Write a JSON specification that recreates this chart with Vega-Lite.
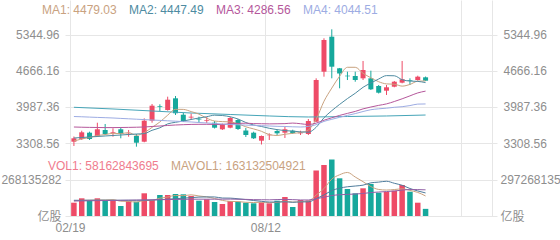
{
 "$schema": "https://vega.github.io/schema/vega-lite/v6.json",
 "padding": 0,
 "bounds": "flush",
 "spacing": 0,
 "background": "#ffffff",
 "config": {
  "view": {"stroke": null},
  "axis": {"labelFont": "Liberation Sans, Noto Sans CJK SC, sans-serif", "labelFontSize": 12, "labelColor": "#8e8e8e", "gridColor": "#e6e6e6", "gridWidth": 1, "domain": false, "ticks": false, "title": null},
  "legend": {"orient": "none", "direction": "horizontal", "title": null, "symbolSize": 0, "symbolStrokeWidth": 0, "symbolOpacity": 0, "labelOffset": 0, "columnPadding": 0, "padding": 0, "labelFontSize": 12, "labelFont": "Liberation Sans", "labelLimit": 400}
 },
 "datasets": {
  "k": [
   {"i":0,"o":3333,"h":3431,"l":3252,"c":3397,"d":"up","v":108.3,"a1":3346,"a2":3403,"a3":3610,"a4":3808,"b1":125,"b2":128,"b3":122},
   {"i":1,"o":3384,"h":3540,"l":3365,"c":3510,"d":"up","v":144.1,"a1":3384,"a2":3412,"a3":3606,"a4":3803,"b1":127,"b2":128,"b3":123},
   {"i":2,"o":3503,"h":3522,"l":3365,"c":3384,"d":"down","v":130.3,"a1":3412,"a2":3422,"a3":3603,"a4":3797,"b1":128,"b2":129,"b3":124},
   {"i":3,"o":3441,"h":3691,"l":3422,"c":3567,"d":"up","v":144.1,"a1":3450,"a2":3431,"a3":3601,"a4":3791,"b1":130,"b2":129,"b3":125},
   {"i":4,"o":3554,"h":3667,"l":3459,"c":3478,"d":"down","v":124.6,"a1":3467,"a2":3441,"a3":3599,"a4":3786,"b1":130.3,"b2":129,"b3":126},
   {"i":5,"o":3503,"h":3586,"l":3427,"c":3516,"d":"up","v":122.2,"a1":3491,"a2":3450,"a3":3599,"a4":3780,"b1":133.1,"b2":128,"b3":127},
   {"i":6,"o":3567,"h":3605,"l":3397,"c":3478,"d":"down","v":81.4,"a1":3484,"a2":3459,"a3":3601,"a4":3772,"b1":120.5,"b2":128,"b3":128},
   {"i":7,"o":3469,"h":3554,"l":3427,"c":3484,"d":"up","v":122.2,"a1":3505,"a2":3469,"a3":3603,"a4":3765,"b1":118.9,"b2":128,"b3":129},
   {"i":8,"o":3441,"h":3478,"l":3239,"c":3314,"d":"down","v":116.5,"a1":3454,"a2":3478,"a3":3606,"a4":3757,"b1":113.4,"b2":128,"b3":130},
   {"i":9,"o":3333,"h":3774,"l":3322,"c":3729,"d":"up","v":184.9,"a1":3505,"a2":3486,"a3":3610,"a4":3750,"b1":125.4,"b2":127.9,"b3":131},
   {"i":10,"o":3729,"h":4044,"l":3691,"c":4012,"d":"up","v":130.3,"a1":3603,"a2":3548,"a3":3620,"a4":3742,"b1":127.1,"b2":130.1,"b3":132},
   {"i":11,"o":4001,"h":4038,"l":3912,"c":3987,"d":"down","v":171,"a1":3705,"a2":3595,"a3":3629,"a4":3735,"b1":145,"b2":132.8,"b3":133},
   {"i":12,"o":3931,"h":4182,"l":3918,"c":4125,"d":"up","v":171,"a1":3833,"a2":3669,"a3":3639,"a4":3727,"b1":154.7,"b2":136.8,"b3":134},
   {"i":13,"o":4151,"h":4195,"l":3837,"c":3869,"d":"down","v":179.2,"a1":3944,"a2":3699,"a3":3648,"a4":3720,"b1":167.3,"b2":140.3,"b3":135},
   {"i":14,"o":3842,"h":3874,"l":3705,"c":3718,"d":"down","v":176.7,"a1":3942,"a2":3723,"a3":3654,"a4":3712,"b1":165.6,"b2":145.5,"b3":136},
   {"i":15,"o":3789,"h":3865,"l":3742,"c":3804,"d":"up","v":162.9,"a1":3901,"a2":3752,"a3":3659,"a4":3705,"b1":172.2,"b2":149.6,"b3":136.5},
   {"i":16,"o":3767,"h":3804,"l":3691,"c":3752,"d":"down","v":124.6,"a1":3853,"a2":3780,"a3":3661,"a4":3695,"b1":162.9,"b2":153.9,"b3":137},
   {"i":17,"o":3729,"h":3799,"l":3686,"c":3742,"d":"up","v":136,"a1":3776,"a2":3804,"a3":3661,"a4":3686,"b1":155.9,"b2":155.3,"b3":137},
   {"i":18,"o":3691,"h":3723,"l":3582,"c":3597,"d":"down","v":114,"a1":3723,"a2":3833,"a3":3659,"a4":3676,"b1":142.8,"b2":155.1,"b3":137},
   {"i":19,"o":3567,"h":3676,"l":3554,"c":3661,"d":"up","v":97.7,"a1":3712,"a2":3827,"a3":3655,"a4":3667,"b1":127,"b2":146.3,"b3":137.1},
   {"i":20,"o":3597,"h":3804,"l":3586,"c":3780,"d":"up","v":122.2,"a1":3706,"a2":3803,"a3":3676,"a4":3657,"b1":118.9,"b2":145.5,"b3":137.8},
   {"i":21,"o":3742,"h":3761,"l":3554,"c":3573,"d":"down","v":116.5,"a1":3671,"a2":3761,"a3":3678,"a4":3652,"b1":117.3,"b2":140.1,"b3":136.4},
   {"i":22,"o":3544,"h":3591,"l":3422,"c":3459,"d":"down","v":108.3,"a1":3614,"a2":3695,"a3":3682,"a4":3646,"b1":111.7,"b2":133.8,"b3":135.3},
   {"i":23,"o":3503,"h":3522,"l":3384,"c":3397,"d":"down","v":103.4,"a1":3574,"a2":3648,"a3":3674,"a4":3640,"b1":109.6,"b2":126.2,"b3":133.3},
   {"i":24,"o":3352,"h":3450,"l":3280,"c":3441,"d":"up","v":111.6,"a1":3529,"a2":3620,"a3":3672,"a4":3635,"b1":112.4,"b2":119.7,"b3":132.6},
   {"i":25,"o":3454,"h":3491,"l":3365,"c":3465,"d":"up","v":103.4,"a1":3467,"a2":3586,"a3":3669,"a4":3629,"b1":108.6,"b2":113.8,"b3":131.7},
   {"i":26,"o":3535,"h":3567,"l":3459,"c":3491,"d":"down","v":124.6,"a1":3450,"a2":3561,"a3":3671,"a4":3623,"b1":110.3,"b2":113.8,"b3":133.9},
   {"i":27,"o":3503,"h":3616,"l":3403,"c":3567,"d":"up","v":154.7,"a1":3473,"a2":3542,"a3":3674,"a4":3620,"b1":119.5,"b2":115.6,"b3":135.5},
   {"i":28,"o":3540,"h":3559,"l":3478,"c":3497,"d":"down","v":73.3,"a1":3491,"a2":3533,"a3":3684,"a4":3614,"b1":113.5,"b2":111.6,"b3":133.3},
   {"i":29,"o":3491,"h":3540,"l":3459,"c":3503,"d":"up","v":130.3,"a1":3505,"a2":3518,"a3":3672,"a4":3610,"b1":117.3,"b2":114.8,"b3":130.6},
   {"i":30,"o":3478,"h":3761,"l":3459,"c":3723,"d":"up","v":126.2,"a1":3556,"a2":3512,"a3":3657,"a4":3622,"b1":121.8,"b2":115.2,"b3":130.4},
   {"i":31,"o":3710,"h":4528,"l":3705,"c":4496,"d":"up","v":370.6,"a1":3757,"a2":3605,"a3":3684,"a4":3654,"b1":171,"b2":140.6,"b3":140.4},
   {"i":32,"o":4653,"h":5283,"l":4559,"c":5251,"d":"up","v":415.3,"a1":4095,"a2":3784,"a3":3738,"a4":3716,"b1":223.1,"b2":171.3,"b3":152.6},
   {"i":33,"o":5313,"h":5452,"l":4528,"c":4747,"d":"down","v":460.1,"a1":4344,"a2":3918,"a3":3784,"a4":3755,"b1":300.5,"b2":207,"b3":166.6},
   {"i":34,"o":4717,"h":4723,"l":4340,"c":4619,"d":"down","v":307,"a1":4568,"a2":4036,"a3":3829,"a4":3793,"b1":335.8,"b2":226.6,"b3":173.1},
   {"i":35,"o":4578,"h":4653,"l":4496,"c":4566,"d":"down","v":219.9,"a1":4736,"a2":4146,"a3":3867,"a4":3829,"b1":354.6,"b2":238.2,"b3":176},
   {"i":36,"o":4572,"h":4653,"l":4464,"c":4496,"d":"down","v":184.9,"a1":4736,"a2":4246,"a3":3904,"a4":3863,"b1":317.4,"b2":244.2,"b3":179},
   {"i":37,"o":4528,"h":4855,"l":4496,"c":4685,"d":"up","v":225.6,"a1":4623,"a2":4359,"a3":3952,"a4":3902,"b1":279.5,"b2":251.3,"b3":183.5},
   {"i":38,"o":4528,"h":4672,"l":4308,"c":4321,"d":"down","v":260.6,"a1":4538,"a2":4440,"a3":3987,"a4":3936,"b1":239.6,"b2":270.1,"b3":190.8},
   {"i":39,"o":4383,"h":4402,"l":4242,"c":4257,"d":"down","v":189.8,"a1":4464,"a2":4515,"a3":4018,"a4":3953,"b1":216.2,"b2":276,"b3":195.4},
   {"i":40,"o":4295,"h":4402,"l":4214,"c":4359,"d":"up","v":195.5,"a1":4423,"a2":4579,"a3":4046,"a4":3965,"b1":211.3,"b2":282.9,"b3":199.1},
   {"i":41,"o":4370,"h":4478,"l":4359,"c":4464,"d":"up","v":206,"a1":4417,"a2":4576,"a3":4091,"a4":3982,"b1":215.5,"b2":266.5,"b3":203.6},
   {"i":42,"o":4446,"h":4855,"l":4434,"c":4510,"d":"up","v":252.5,"a1":4381,"a2":4502,"a3":4142,"a4":3993,"b1":220.9,"b2":250.2,"b3":210.8},
   {"i":43,"o":4491,"h":4528,"l":4402,"c":4478,"d":"down","v":197.9,"a1":4413,"a2":4476,"a3":4197,"a4":4014,"b1":208.3,"b2":224,"b3":215.5},
   {"i":44,"o":4496,"h":4578,"l":4483,"c":4559,"d":"up","v":108.3,"a1":4474,"a2":4470,"a3":4253,"a4":4042,"b1":192,"b2":204.1,"b3":215.3},
   {"i":45,"o":4547,"h":4562,"l":4478,"c":4483,"d":"down","v":58.162843695,"a1":4479.03,"a2":4447.49,"a3":4286.56,"a4":4044.51,"b1":163.132504921,"b2":187.9,"b3":213.1}
  ],
  "m5": [
   {"i":0,"p":3982},{"i":5,"p":3950},{"i":10,"p":3912},{"i":15,"p":3874},{"i":20,"p":3846},
   {"i":25,"p":3818},{"i":30,"p":3799},{"i":35,"p":3808},{"i":40,"p":3818},{"i":45,"p":3836}
  ]
 },
 "resolve": {"scale": {"x": "independent", "y": "independent", "color": "independent"}},
 "vconcat": [
  {
   "width": 432,
   "height": 143,
   "data": {"name": "k"},
   "resolve": {"scale": {"color": "independent"}, "axis": {"y": "independent"}},
   "layer": [
    {
     "mark": {"type": "rule", "strokeWidth": 1},
     "encoding": {
      "x": {"field": "i", "type": "quantitative", "scale": {"domain": [-0.5, 53.5], "nice": false, "zero": false}, "axis": {"values": [-0.5, 24.5, 49.5, 53.5], "grid": true, "labels": false}},
      "y": {"field": "l", "type": "quantitative", "scale": {"domain": [3308.56, 6004.8], "nice": false, "zero": false},
            "axis": {"orient": "left", "values": [3308.56, 3987.36, 4666.16, 5344.96], "grid": true, "labelPadding": 6, "labelExpr": "format(datum.value, '.2f')",
                     "encode": {"labels": {"update": {"dy": {"signal": "datum.value > 5000 ? 4 : (datum.value < 3400 ? -3.5 : 0)"}}}}}},
      "y2": {"field": "h"},
      "color": {"field": "d", "type": "nominal", "scale": {"domain": ["up", "down"], "range": ["#ee4b67", "#16a89c"]}, "legend": null}
     }
    },
    {
     "mark": {"type": "bar", "size": 5},
     "encoding": {
      "x": {"field": "i", "type": "quantitative", "scale": {"domain": [-0.5, 53.5], "nice": false, "zero": false}, "axis": {"values": [-0.5, 24.5, 49.5, 53.5], "grid": true, "labels": false}},
      "y": {"field": "o", "type": "quantitative", "scale": {"domain": [3308.56, 6004.8], "nice": false, "zero": false}, "axis": null},
      "y2": {"field": "c"},
      "color": {"field": "d", "type": "nominal", "scale": {"domain": ["up", "down"], "range": ["#ee4b67", "#16a89c"]}, "legend": null}
     }
    },
    {
     "data": {"name": "m5"},
     "mark": {"type": "line", "strokeWidth": 1, "interpolate": "monotone", "color": "#46a5b8"},
     "encoding": {
      "x": {"field": "i", "type": "quantitative", "scale": {"domain": [-0.5, 53.5], "nice": false, "zero": false}, "axis": {"values": [-0.5, 24.5, 49.5, 53.5], "grid": true, "labels": false}},
      "y": {"field": "p", "type": "quantitative", "scale": {"domain": [3308.56, 6004.8], "nice": false, "zero": false}, "axis": null}
     }
    },
    {
     "transform": [{"fold": ["a1", "a2", "a3", "a4"], "as": ["key", "val"]}],
     "mark": {"type": "line", "strokeWidth": 1, "interpolate": "monotone"},
     "encoding": {
      "x": {"field": "i", "type": "quantitative", "scale": {"domain": [-0.5, 53.5], "nice": false, "zero": false}, "axis": {"values": [-0.5, 24.5, 49.5, 53.5], "grid": true, "labels": false}},
      "y": {"field": "val", "type": "quantitative", "scale": {"domain": [3308.56, 6004.8], "nice": false, "zero": false},
            "axis": {"orient": "right", "values": [3308.56, 3987.36, 4666.16, 5344.96], "grid": false, "labelPadding": 6, "labelExpr": "format(datum.value, '.2f')",
                     "encode": {"labels": {"update": {"dy": {"signal": "datum.value > 5000 ? 4 : (datum.value < 3400 ? -3.5 : 0)"}}}}}},
      "color": {"field": "key", "type": "nominal",
                "scale": {"domain": ["a1", "a2", "a3", "a4"], "range": ["#c9a27f", "#4e8ba1", "#b5579b", "#9dace3"]},
                "legend": {"legendX": -35, "legendY": 3.5,
                           "labelExpr": "datum.value == 'a1' ? 'MA1: 4479.03' : (datum.value == 'a2' ? 'MA2: 4447.49' : (datum.value == 'a3' ? 'MA3: 4286.56' : 'MA4: 4044.51'))",
                           "encode": {"labels": {"update": {"fill": {"signal": "datum.value == 'a1' ? '#c9a27f' : (datum.value == 'a2' ? '#4e8ba1' : (datum.value == 'a3' ? '#b5579b' : '#9dace3'))"}}}}}}
     }
    }
   ]
  },
  {
   "width": 432,
   "height": 73,
   "data": {"name": "k"},
   "resolve": {"scale": {"color": "independent"}, "axis": {"y": "independent"}},
   "layer": [
    {
     "mark": {"type": "bar", "size": 5.5},
     "encoding": {
      "x": {"field": "i", "type": "quantitative", "scale": {"domain": [-0.5, 53.5], "nice": false, "zero": false},
            "axis": {"values": [-0.5, 24.5, 49.5, 53.5], "grid": true, "labelOverlap": false, "labelFlush": true, "labelPadding": 6,
                     "labelExpr": "datum.value < 0 ? '02/19' : (datum.value == 24.5 ? '08/12' : '')"}},
      "y": {"field": "v", "type": "quantitative", "scale": {"domain": [0, 594.536270564], "nice": false},
            "axis": {"orient": "left", "values": [0, 297.268135282], "grid": true, "labelPadding": 4,
                     "labelExpr": "datum.value == 0 ? '亿股' : '268135282'",
                     "encode": {"labels": {"update": {"dy": {"signal": "datum.value == 0 ? -5 : 3"}}}}}},
      "color": {"field": "d", "type": "nominal", "scale": {"domain": ["up", "down"], "range": ["#ee4b67", "#16a89c"]}, "legend": null}
     }
    },
    {
     "transform": [{"fold": ["b1", "b2", "b3"], "as": ["key", "val"]}],
     "mark": {"type": "line", "strokeWidth": 1, "interpolate": "monotone"},
     "encoding": {
      "x": {"field": "i", "type": "quantitative", "scale": {"domain": [-0.5, 53.5], "nice": false, "zero": false},
            "axis": {"values": [-0.5, 24.5, 49.5, 53.5], "grid": true, "labelOverlap": false, "labelFlush": true, "labelPadding": 6,
                     "labelExpr": "datum.value < 0 ? '02/19' : (datum.value == 24.5 ? '08/12' : '')"}},
      "y": {"field": "val", "type": "quantitative", "scale": {"domain": [0, 594.536270564], "nice": false},
            "axis": {"orient": "right", "values": [0, 297.268135282], "grid": false, "labelPadding": 3,
                     "labelExpr": "datum.value == 0 ? '亿股' : '297268135'",
                     "encode": {"labels": {"update": {"dy": {"signal": "datum.value == 0 ? -5 : 3"}}}}}},
      "color": {"field": "key", "type": "nominal",
                "scale": {"domain": ["v", "b1", "b2", "b3"], "range": ["#f07c8e", "#c9a27f", "#4f7c9c", "#9160a6"]},
                "legend": {"values": ["v", "b1"], "legendX": -29, "legendY": 17,
                           "labelExpr": "datum.value == 'v' ? 'VOL1: 58162843695' : 'MAVOL1: 163132504921'",
                           "encode": {"labels": {"update": {"fill": {"signal": "datum.value == 'v' ? '#f07c8e' : '#c9a27f'"}}}}}}
     }
    }
   ]
  }
 ]
}
